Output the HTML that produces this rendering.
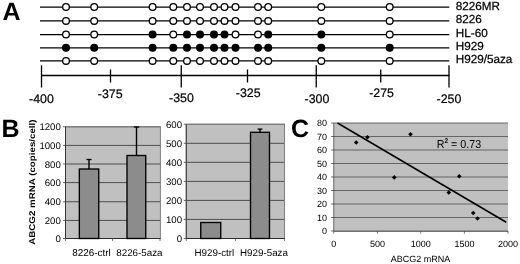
<!DOCTYPE html>
<html><head><meta charset="utf-8"><title>Figure</title>
<style>
html,body{margin:0;padding:0;background:#fff;}
body{width:520px;height:264px;overflow:hidden;}
svg{display:block;text-rendering:geometricPrecision;font-family:"Liberation Sans",Arial,sans-serif;}
</style></head><body>
<svg width="520" height="264" viewBox="0 0 520 264">
<rect width="520" height="264" fill="#fff"/>

<text x="2.5" y="19.5" font-size="25" font-weight="bold" fill="#000">A</text>
<text x="1.4" y="136.8" font-size="25" font-weight="bold" fill="#000">B</text>
<text x="291" y="137.3" font-size="25" font-weight="bold" fill="#000">C</text>
<line x1="40" y1="7" x2="449.3" y2="7" stroke="#000" stroke-width="1.25"/>
<circle cx="66" cy="7" r="3.35" fill="#fff" stroke="#000" stroke-width="1.3"/>
<circle cx="94.2" cy="7" r="3.35" fill="#fff" stroke="#000" stroke-width="1.3"/>
<circle cx="152.6" cy="7" r="3.35" fill="#fff" stroke="#000" stroke-width="1.3"/>
<circle cx="173.3" cy="7" r="3.35" fill="#fff" stroke="#000" stroke-width="1.3"/>
<circle cx="187" cy="7" r="3.35" fill="#fff" stroke="#000" stroke-width="1.3"/>
<circle cx="200" cy="7" r="3.35" fill="#fff" stroke="#000" stroke-width="1.3"/>
<circle cx="214" cy="7" r="3.35" fill="#fff" stroke="#000" stroke-width="1.3"/>
<circle cx="224.5" cy="7" r="3.35" fill="#fff" stroke="#000" stroke-width="1.3"/>
<circle cx="235.5" cy="7" r="3.35" fill="#fff" stroke="#000" stroke-width="1.3"/>
<circle cx="258" cy="7" r="3.35" fill="#fff" stroke="#000" stroke-width="1.3"/>
<circle cx="268.2" cy="7" r="3.35" fill="#fff" stroke="#000" stroke-width="1.3"/>
<circle cx="321.3" cy="7" r="3.35" fill="#fff" stroke="#000" stroke-width="1.3"/>
<circle cx="389.7" cy="7" r="3.35" fill="#fff" stroke="#000" stroke-width="1.3"/>
<text x="455.8" y="9.8" font-size="11.7" fill="#000" stroke="#000" stroke-width="0.25">8226MR</text>
<line x1="40" y1="20.9" x2="449.3" y2="20.9" stroke="#000" stroke-width="1.25"/>
<circle cx="66" cy="20.9" r="3.35" fill="#fff" stroke="#000" stroke-width="1.3"/>
<circle cx="94.2" cy="20.9" r="3.35" fill="#fff" stroke="#000" stroke-width="1.3"/>
<circle cx="152.6" cy="20.9" r="3.35" fill="#fff" stroke="#000" stroke-width="1.3"/>
<circle cx="173.3" cy="20.9" r="3.35" fill="#fff" stroke="#000" stroke-width="1.3"/>
<circle cx="187" cy="20.9" r="3.35" fill="#fff" stroke="#000" stroke-width="1.3"/>
<circle cx="200" cy="20.9" r="3.35" fill="#fff" stroke="#000" stroke-width="1.3"/>
<circle cx="214" cy="20.9" r="3.35" fill="#fff" stroke="#000" stroke-width="1.3"/>
<circle cx="224.5" cy="20.9" r="3.35" fill="#fff" stroke="#000" stroke-width="1.3"/>
<circle cx="235.5" cy="20.9" r="3.35" fill="#fff" stroke="#000" stroke-width="1.3"/>
<circle cx="258" cy="20.9" r="3.35" fill="#fff" stroke="#000" stroke-width="1.3"/>
<circle cx="268.2" cy="20.9" r="3.35" fill="#fff" stroke="#000" stroke-width="1.3"/>
<circle cx="321.3" cy="20.9" r="3.35" fill="#fff" stroke="#000" stroke-width="1.3"/>
<circle cx="389.7" cy="20.9" r="3.35" fill="#fff" stroke="#000" stroke-width="1.3"/>
<text x="455.8" y="23.3" font-size="11.7" fill="#000" stroke="#000" stroke-width="0.25">8226</text>
<line x1="40" y1="34.5" x2="449.3" y2="34.5" stroke="#000" stroke-width="1.25"/>
<circle cx="66" cy="34.5" r="3.35" fill="#fff" stroke="#000" stroke-width="1.3"/>
<circle cx="94.2" cy="34.5" r="3.35" fill="#fff" stroke="#000" stroke-width="1.3"/>
<circle cx="152.6" cy="34.5" r="3.35" fill="#000" stroke="#000" stroke-width="1.3"/>
<circle cx="173.3" cy="34.5" r="3.35" fill="#fff" stroke="#000" stroke-width="1.3"/>
<circle cx="187" cy="34.5" r="3.35" fill="#000" stroke="#000" stroke-width="1.3"/>
<circle cx="200" cy="34.5" r="3.35" fill="#000" stroke="#000" stroke-width="1.3"/>
<circle cx="214" cy="34.5" r="3.35" fill="#000" stroke="#000" stroke-width="1.3"/>
<circle cx="224.5" cy="34.5" r="3.35" fill="#000" stroke="#000" stroke-width="1.3"/>
<circle cx="235.5" cy="34.5" r="3.35" fill="#fff" stroke="#000" stroke-width="1.3"/>
<circle cx="258" cy="34.5" r="3.35" fill="#fff" stroke="#000" stroke-width="1.3"/>
<circle cx="268.2" cy="34.5" r="3.35" fill="#000" stroke="#000" stroke-width="1.3"/>
<circle cx="321.3" cy="34.5" r="3.35" fill="#000" stroke="#000" stroke-width="1.3"/>
<circle cx="389.7" cy="34.5" r="3.35" fill="#fff" stroke="#000" stroke-width="1.3"/>
<text x="455.8" y="36.8" font-size="11.7" fill="#000" stroke="#000" stroke-width="0.25">HL-60</text>
<line x1="40" y1="47.8" x2="449.3" y2="47.8" stroke="#000" stroke-width="1.25"/>
<circle cx="66" cy="47.8" r="3.35" fill="#000" stroke="#000" stroke-width="1.3"/>
<circle cx="94.2" cy="47.8" r="3.35" fill="#000" stroke="#000" stroke-width="1.3"/>
<circle cx="152.6" cy="47.8" r="3.35" fill="#000" stroke="#000" stroke-width="1.3"/>
<circle cx="173.3" cy="47.8" r="3.35" fill="#000" stroke="#000" stroke-width="1.3"/>
<circle cx="187" cy="47.8" r="3.35" fill="#000" stroke="#000" stroke-width="1.3"/>
<circle cx="200" cy="47.8" r="3.35" fill="#000" stroke="#000" stroke-width="1.3"/>
<circle cx="214" cy="47.8" r="3.35" fill="#000" stroke="#000" stroke-width="1.3"/>
<circle cx="224.5" cy="47.8" r="3.35" fill="#000" stroke="#000" stroke-width="1.3"/>
<circle cx="235.5" cy="47.8" r="3.35" fill="#000" stroke="#000" stroke-width="1.3"/>
<circle cx="258" cy="47.8" r="3.35" fill="#000" stroke="#000" stroke-width="1.3"/>
<circle cx="268.2" cy="47.8" r="3.35" fill="#000" stroke="#000" stroke-width="1.3"/>
<circle cx="321.3" cy="47.8" r="3.35" fill="#000" stroke="#000" stroke-width="1.3"/>
<circle cx="389.7" cy="47.8" r="3.35" fill="#000" stroke="#000" stroke-width="1.3"/>
<text x="455.8" y="50.3" font-size="11.7" fill="#000" stroke="#000" stroke-width="0.25">H929</text>
<line x1="40" y1="60.9" x2="449.3" y2="60.9" stroke="#000" stroke-width="1.25"/>
<circle cx="66" cy="60.9" r="3.35" fill="#fff" stroke="#000" stroke-width="1.3"/>
<circle cx="94.2" cy="60.9" r="3.35" fill="#fff" stroke="#000" stroke-width="1.3"/>
<circle cx="152.6" cy="60.9" r="3.35" fill="#fff" stroke="#000" stroke-width="1.3"/>
<circle cx="173.3" cy="60.9" r="3.35" fill="#fff" stroke="#000" stroke-width="1.3"/>
<circle cx="187" cy="60.9" r="3.35" fill="#fff" stroke="#000" stroke-width="1.3"/>
<circle cx="200" cy="60.9" r="3.35" fill="#fff" stroke="#000" stroke-width="1.3"/>
<circle cx="214" cy="60.9" r="3.35" fill="#fff" stroke="#000" stroke-width="1.3"/>
<circle cx="224.5" cy="60.9" r="3.35" fill="#fff" stroke="#000" stroke-width="1.3"/>
<circle cx="235.5" cy="60.9" r="3.35" fill="#fff" stroke="#000" stroke-width="1.3"/>
<circle cx="258" cy="60.9" r="3.35" fill="#fff" stroke="#000" stroke-width="1.3"/>
<circle cx="268.2" cy="60.9" r="3.35" fill="#fff" stroke="#000" stroke-width="1.3"/>
<circle cx="321.3" cy="60.9" r="3.35" fill="#fff" stroke="#000" stroke-width="1.3"/>
<circle cx="389.7" cy="60.9" r="3.35" fill="#fff" stroke="#000" stroke-width="1.3"/>
<text x="455.8" y="63.2" font-size="11.7" fill="#000" stroke="#000" stroke-width="0.25">H929/5aza</text>
<line x1="41" y1="75.5" x2="449.3" y2="75.5" stroke="#000" stroke-width="1.3"/>
<line x1="41.5" y1="65.3" x2="41.5" y2="87.5" stroke="#000" stroke-width="1.3"/>
<line x1="181.25" y1="65.3" x2="181.25" y2="87.5" stroke="#000" stroke-width="1.3"/>
<line x1="316.25" y1="65.3" x2="316.25" y2="87.5" stroke="#000" stroke-width="1.3"/>
<line x1="449.0" y1="65.3" x2="449.0" y2="87.5" stroke="#000" stroke-width="1.3"/>
<line x1="110.5" y1="69.5" x2="110.5" y2="82.5" stroke="#000" stroke-width="1.3"/>
<line x1="247.5" y1="69.5" x2="247.5" y2="82.5" stroke="#000" stroke-width="1.3"/>
<line x1="380.75" y1="69.5" x2="380.75" y2="82.5" stroke="#000" stroke-width="1.3"/>
<text x="29.1" y="102.5" font-size="12.4" fill="#000" stroke="#000" stroke-width="0.2">-400</text>
<text x="97.85" y="98.15" font-size="12.4" fill="#000" stroke="#000" stroke-width="0.2">-375</text>
<text x="169.1" y="102.25" font-size="12.4" fill="#000" stroke="#000" stroke-width="0.2">-350</text>
<text x="235.85" y="97.15" font-size="12.4" fill="#000" stroke="#000" stroke-width="0.2">-325</text>
<text x="304.6" y="102.75" font-size="12.4" fill="#000" stroke="#000" stroke-width="0.2">-300</text>
<text x="369.20000000000005" y="97.25" font-size="12.4" fill="#000" stroke="#000" stroke-width="0.2">-275</text>
<text x="436.6" y="103.15" font-size="12.4" fill="#000" stroke="#000" stroke-width="0.2">-250</text>
<rect x="65.5" y="126.75" width="94.9" height="111.75" fill="#c0c0c0"/>
<line x1="63.0" y1="126.75" x2="160.4" y2="126.75" stroke="#000" stroke-width="0.6"/>
<text x="60.8" y="130.35" font-size="9.65" text-anchor="end" fill="#000">1200</text>
<line x1="63.0" y1="145.4" x2="160.4" y2="145.4" stroke="#000" stroke-width="0.6"/>
<text x="60.8" y="149.0" font-size="9.65" text-anchor="end" fill="#000">1000</text>
<line x1="63.0" y1="164.0" x2="160.4" y2="164.0" stroke="#000" stroke-width="0.6"/>
<text x="60.8" y="167.6" font-size="9.65" text-anchor="end" fill="#000">800</text>
<line x1="63.0" y1="182.6" x2="160.4" y2="182.6" stroke="#000" stroke-width="0.6"/>
<text x="60.8" y="186.2" font-size="9.65" text-anchor="end" fill="#000">600</text>
<line x1="63.0" y1="201.75" x2="160.4" y2="201.75" stroke="#000" stroke-width="0.6"/>
<text x="60.8" y="205.35" font-size="9.65" text-anchor="end" fill="#000">400</text>
<line x1="63.0" y1="220.4" x2="160.4" y2="220.4" stroke="#000" stroke-width="0.6"/>
<text x="60.8" y="224.0" font-size="9.65" text-anchor="end" fill="#000">200</text>
<line x1="63.0" y1="238.5" x2="160.4" y2="238.5" stroke="#000" stroke-width="0.6"/>
<text x="60.8" y="242.1" font-size="9.65" text-anchor="end" fill="#000">0</text>
<rect x="65.5" y="126.75" width="94.9" height="111.75" fill="none" stroke="#808080" stroke-width="1"/>
<line x1="65.5" y1="126.75" x2="65.5" y2="238.5" stroke="#222" stroke-width="0.8"/>
<line x1="65.5" y1="238.5" x2="160.4" y2="238.5" stroke="#222" stroke-width="0.9"/>
<line x1="65.5" y1="238.5" x2="65.5" y2="241" stroke="#444" stroke-width="0.7"/>
<line x1="112.5" y1="238.5" x2="112.5" y2="241" stroke="#444" stroke-width="0.7"/>
<line x1="160" y1="238.5" x2="160" y2="241" stroke="#444" stroke-width="0.7"/>
<line x1="89" y1="159.5" x2="89" y2="169" stroke="#000" stroke-width="1.4"/>
<line x1="86.4" y1="159.5" x2="91.6" y2="159.5" stroke="#000" stroke-width="1.3"/>
<rect x="79.35" y="169" width="19.400000000000006" height="69.5" fill="#8c8c8c" stroke="#000" stroke-width="1.35"/>
<line x1="136.5" y1="127" x2="136.5" y2="155.5" stroke="#000" stroke-width="1.4"/>
<line x1="133.75" y1="127" x2="139.25" y2="127" stroke="#000" stroke-width="1.3"/>
<rect x="127" y="155.5" width="18.75" height="83.0" fill="#8c8c8c" stroke="#000" stroke-width="1.35"/>
<text x="72.2" y="255.7" font-size="9.9" fill="#000">8226-ctrl</text>
<text x="116.25" y="255.7" font-size="9.8" fill="#000">8226-5aza</text>
<text transform="translate(34.6,244.8) rotate(-90) scale(1,0.86)" font-size="9.75" font-weight="bold" fill="#000">ABCG2 mRNA (copies/cell)</text>
<rect x="186.25" y="124.25" width="98.25" height="114.25" fill="#c0c0c0"/>
<line x1="183.75" y1="124.25" x2="284.5" y2="124.25" stroke="#000" stroke-width="0.6"/>
<text x="182" y="127.85" font-size="9.65" text-anchor="end" fill="#000">600</text>
<line x1="183.75" y1="143.3" x2="284.5" y2="143.3" stroke="#000" stroke-width="0.6"/>
<text x="182" y="146.9" font-size="9.65" text-anchor="end" fill="#000">500</text>
<line x1="183.75" y1="162.3" x2="284.5" y2="162.3" stroke="#000" stroke-width="0.6"/>
<text x="182" y="165.9" font-size="9.65" text-anchor="end" fill="#000">400</text>
<line x1="183.75" y1="181.4" x2="284.5" y2="181.4" stroke="#000" stroke-width="0.6"/>
<text x="182" y="185.0" font-size="9.65" text-anchor="end" fill="#000">300</text>
<line x1="183.75" y1="200.4" x2="284.5" y2="200.4" stroke="#000" stroke-width="0.6"/>
<text x="182" y="204.0" font-size="9.65" text-anchor="end" fill="#000">200</text>
<line x1="183.75" y1="219.4" x2="284.5" y2="219.4" stroke="#000" stroke-width="0.6"/>
<text x="182" y="223.0" font-size="9.65" text-anchor="end" fill="#000">100</text>
<line x1="183.75" y1="238.5" x2="284.5" y2="238.5" stroke="#000" stroke-width="0.6"/>
<text x="182" y="242.1" font-size="9.65" text-anchor="end" fill="#000">0</text>
<rect x="186.25" y="124.25" width="98.25" height="114.25" fill="none" stroke="#808080" stroke-width="1"/>
<line x1="186.25" y1="124.25" x2="186.25" y2="238.5" stroke="#222" stroke-width="0.8"/>
<line x1="186.25" y1="238.5" x2="284.5" y2="238.5" stroke="#222" stroke-width="0.9"/>
<line x1="186.25" y1="238.5" x2="186.25" y2="241" stroke="#444" stroke-width="0.7"/>
<line x1="235.5" y1="238.5" x2="235.5" y2="241" stroke="#444" stroke-width="0.7"/>
<line x1="284.5" y1="238.5" x2="284.5" y2="241" stroke="#444" stroke-width="0.7"/>
<line x1="210.75" y1="222.5" x2="210.75" y2="222.5" stroke="#000" stroke-width="1.4"/>
<line x1="210.75" y1="222.5" x2="210.75" y2="222.5" stroke="#000" stroke-width="1.3"/>
<rect x="200.75" y="222.5" width="20.0" height="16.0" fill="#8c8c8c" stroke="#000" stroke-width="1.35"/>
<line x1="260" y1="129.1" x2="260" y2="132.3" stroke="#000" stroke-width="1.4"/>
<line x1="257.6" y1="129.1" x2="262.4" y2="129.1" stroke="#000" stroke-width="1.3"/>
<rect x="250.5" y="132.3" width="19.0" height="106.19999999999999" fill="#8c8c8c" stroke="#000" stroke-width="1.35"/>
<text x="194.5" y="255.7" font-size="9.8" fill="#000">H929-ctrl</text>
<text x="240" y="255.7" font-size="9.8" fill="#000">H929-5aza</text>
<rect x="333.75" y="123" width="174.25" height="108" fill="#c0c0c0"/>
<line x1="333.75" y1="123.0" x2="508" y2="123.0" stroke="#5a5a5a" stroke-width="0.9"/>
<line x1="331.0" y1="123.0" x2="333.75" y2="123.0" stroke="#333" stroke-width="0.7"/>
<text x="327" y="126.2" font-size="9" text-anchor="end" fill="#000">80</text>
<line x1="333.75" y1="136.5" x2="508" y2="136.5" stroke="#5a5a5a" stroke-width="0.9"/>
<line x1="331.0" y1="136.5" x2="333.75" y2="136.5" stroke="#333" stroke-width="0.7"/>
<text x="327" y="139.7" font-size="9" text-anchor="end" fill="#000">70</text>
<line x1="333.75" y1="150.0" x2="508" y2="150.0" stroke="#5a5a5a" stroke-width="0.9"/>
<line x1="331.0" y1="150.0" x2="333.75" y2="150.0" stroke="#333" stroke-width="0.7"/>
<text x="327" y="153.2" font-size="9" text-anchor="end" fill="#000">60</text>
<line x1="333.75" y1="163.5" x2="508" y2="163.5" stroke="#5a5a5a" stroke-width="0.9"/>
<line x1="331.0" y1="163.5" x2="333.75" y2="163.5" stroke="#333" stroke-width="0.7"/>
<text x="327" y="166.7" font-size="9" text-anchor="end" fill="#000">50</text>
<line x1="333.75" y1="177.0" x2="508" y2="177.0" stroke="#5a5a5a" stroke-width="0.9"/>
<line x1="331.0" y1="177.0" x2="333.75" y2="177.0" stroke="#333" stroke-width="0.7"/>
<text x="327" y="180.2" font-size="9" text-anchor="end" fill="#000">40</text>
<line x1="333.75" y1="190.5" x2="508" y2="190.5" stroke="#5a5a5a" stroke-width="0.9"/>
<line x1="331.0" y1="190.5" x2="333.75" y2="190.5" stroke="#333" stroke-width="0.7"/>
<text x="327" y="193.7" font-size="9" text-anchor="end" fill="#000">30</text>
<line x1="333.75" y1="204.0" x2="508" y2="204.0" stroke="#5a5a5a" stroke-width="0.9"/>
<line x1="331.0" y1="204.0" x2="333.75" y2="204.0" stroke="#333" stroke-width="0.7"/>
<text x="327" y="207.2" font-size="9" text-anchor="end" fill="#000">20</text>
<line x1="333.75" y1="217.5" x2="508" y2="217.5" stroke="#5a5a5a" stroke-width="0.9"/>
<line x1="331.0" y1="217.5" x2="333.75" y2="217.5" stroke="#333" stroke-width="0.7"/>
<text x="327" y="220.7" font-size="9" text-anchor="end" fill="#000">10</text>
<line x1="331.0" y1="231.0" x2="333.75" y2="231.0" stroke="#333" stroke-width="0.7"/>
<text x="327" y="234.2" font-size="9" text-anchor="end" fill="#000">0</text>
<line x1="333.75" y1="123" x2="333.75" y2="231" stroke="#333" stroke-width="0.7"/>
<line x1="333.75" y1="231.2" x2="508" y2="231.2" stroke="#333" stroke-width="1"/>
<line x1="333.75" y1="231" x2="333.75" y2="233.7" stroke="#444" stroke-width="0.7"/>
<text x="333.75" y="247" font-size="9" text-anchor="middle" fill="#000">0</text>
<line x1="377.4" y1="231" x2="377.4" y2="233.7" stroke="#444" stroke-width="0.7"/>
<text x="377.4" y="247" font-size="9" text-anchor="middle" fill="#000">500</text>
<line x1="420.7" y1="231" x2="420.7" y2="233.7" stroke="#444" stroke-width="0.7"/>
<text x="420.7" y="247" font-size="9" text-anchor="middle" fill="#000">1000</text>
<line x1="464.4" y1="231" x2="464.4" y2="233.7" stroke="#444" stroke-width="0.7"/>
<text x="464.4" y="247" font-size="9" text-anchor="middle" fill="#000">1500</text>
<line x1="508.0" y1="231" x2="508.0" y2="233.7" stroke="#444" stroke-width="0.7"/>
<text x="508.0" y="247" font-size="9" text-anchor="middle" fill="#000">2000</text>
<line x1="337.5" y1="123" x2="506.25" y2="222.25" stroke="#000" stroke-width="1.5"/>
<polygon points="353.95,142.5 356.25,140.2 358.55,142.5 356.25,144.8" fill="#000"/>
<polygon points="365.09999999999997,137.3 367.4,135.0 369.7,137.3 367.4,139.60000000000002" fill="#000"/>
<polygon points="408.2,134.25 410.5,131.95 412.8,134.25 410.5,136.55" fill="#000"/>
<polygon points="391.95,177.4 394.25,175.1 396.55,177.4 394.25,179.70000000000002" fill="#000"/>
<polygon points="456.95,176.25 459.25,173.95 461.55,176.25 459.25,178.55" fill="#000"/>
<polygon points="446.45,192.5 448.75,190.2 451.05,192.5 448.75,194.8" fill="#000"/>
<polygon points="470.95,213 473.25,210.7 475.55,213 473.25,215.3" fill="#000"/>
<polygon points="475.2,218.5 477.5,216.2 479.8,218.5 477.5,220.8" fill="#000"/>
<text transform="translate(436.75,148.2) scale(0.925,1)" font-size="11.6" fill="#000">R<tspan font-size="7" font-weight="bold" dy="-4.8">2</tspan><tspan dy="4.8"> = 0.73</tspan></text>
<text x="390.75" y="262.2" font-size="9" fill="#000">ABCG2 mRNA</text>
</svg></body></html>
